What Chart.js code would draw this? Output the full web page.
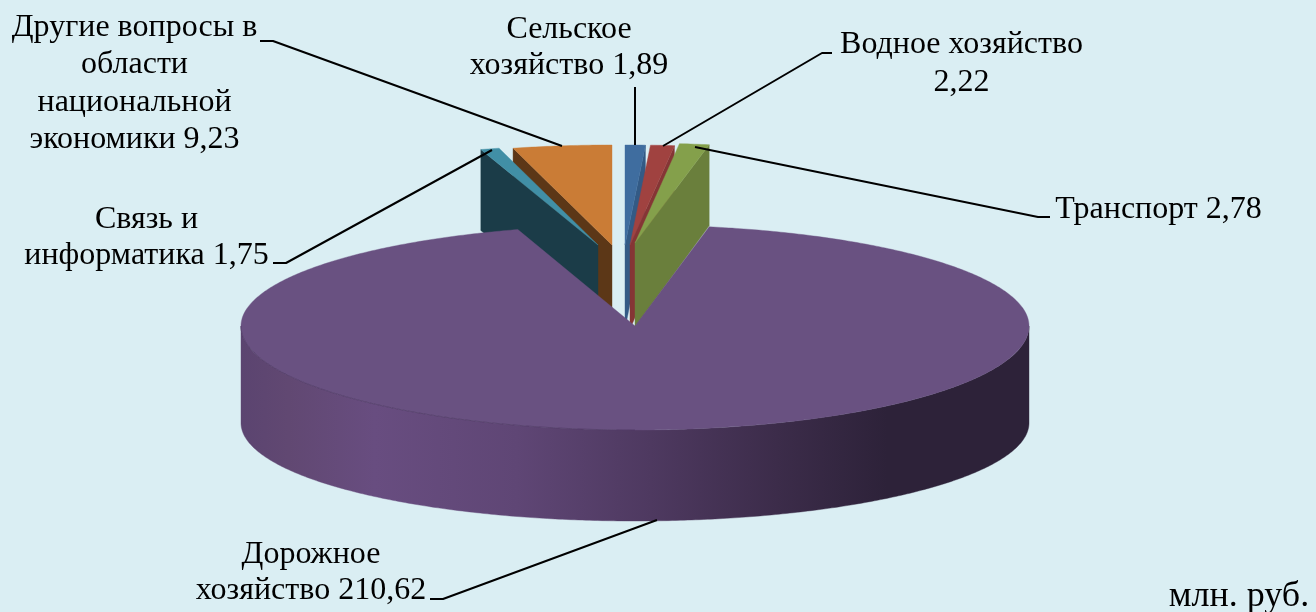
<!DOCTYPE html>
<html><head><meta charset="utf-8">
<style>html,body{margin:0;padding:0;background:#DAEEF3;overflow:hidden}canvas{display:block}</style>
<script src="https://cdn.jsdelivr.net/npm/chart.js@4/dist/chart.umd.min.js"></script>
</head><body><canvas id="c" width="1316" height="612"></canvas>
<script>
const categories = ['Сельское хозяйство','Водное хозяйство','Транспорт','Дорожное хозяйство','Связь и информатика','Другие вопросы в области национальной экономики'];
const values = [1.89,2.22,2.78,210.62,1.75,9.23];
const labelLines = [['Сельское','хозяйство'],['Водное хозяйство'],['Транспорт'],['Дорожное','хозяйство'],['Связь и','информатика'],['Другие вопросы в','области','национальной','экономики']];
const topColors = ['#3F6D9F','#A04240','#84A04B','#695181','#418FA6','#CA7C36'];
const wallColors = ['#335A85','#853535','#6A7F3C','#5A4470','#1B3C48','#5C3717'];
const unit = 'млн. руб.';

// Presentation geometry (pixels)
const BIG = 3;
const explode = [[-10,-81],[-5,-81],[0,-83],[0,0],[-37,-81],[-23,-81]];
const labelPos = [
 {x:569,y:38,lh:36,newline:true},
 {x:961.5,y:53,lh:38,newline:true},
 {x:1158.5,y:218,lh:37,newline:false},
 {x:311,y:563,lh:36,newline:false},
 {x:146.5,y:228,lh:36,newline:false},
 {x:134.5,y:36,lh:37.3,newline:false}
];
const leaders = [
 [[635,87],[635,145]],
 [[832,53],[822,53],[663,146]],
 [[1050,217],[1038,217],[695,147]],
 [[430,599],[443,599],[657,520]],
 [[273,263],[286,263],[492,150]],
 [[260,41],[273,41],[562,146]]
];

function pt(cx,cy,rx,ryBack,ryFront,a){
  const c=Math.cos(a), s=Math.sin(a);
  return [cx+rx*c, cy+(s<0?ryBack:ryFront)*s];
}
function arcPts(el,cx,cy,rb,rf,a0,a1){
  const out=[], n=Math.max(2,Math.ceil(Math.abs(a1-a0)/0.01));
  for(let i=0;i<=n;i++) out.push(pt(cx,cy,el.outerRadius,rb,rf,a0+(a1-a0)*i/n));
  return out;
}
function fillPoly(ctx,p,fill){
  ctx.beginPath(); p.forEach((q,i)=>i?ctx.lineTo(q[0],q[1]):ctx.moveTo(q[0],q[1])); ctx.closePath();
  ctx.fillStyle=fill; ctx.fill();
  ctx.strokeStyle=fill; ctx.lineWidth=0.4; ctx.stroke();
}

const pie3d = {
  id:'pie3d',
  beforeDatasetDraw(chart,args){
    const ctx=chart.ctx, arcs=args.meta.data;
    const drawSmall=(i,side)=>{
      const el=arcs[i], cx=el.x+explode[i][0], cy=el.y+explode[i][1], rb=100, rf=100, d=84;
      const a=side==='start'?el.startAngle:el.endAngle;
      const o=pt(cx,cy,el.outerRadius,rb,rf,a);
      fillPoly(ctx,[[cx,cy],o,[o[0],o[1]+d-3],[cx,cy+d]],wallColors[i]);
      fillPoly(ctx,[[cx,cy],...arcPts(el,cx,cy,rb,rf,el.startAngle,el.endAngle)],el.options.backgroundColor);
    };
    drawSmall(5,'start'); drawSmall(4,'start');
    drawSmall(0,'end'); drawSmall(1,'end'); drawSmall(2,'end');

    const el=arcs[BIG], cx=el.x, cy=el.y, R=el.outerRadius;
    const g=ctx.createLinearGradient(cx-R,0,cx+R,0);
    g.addColorStop(0,'#5B4470'); g.addColorStop(0.06,'#614872'); g.addColorStop(0.17,'#684D80');
    g.addColorStop(0.35,'#5F4675'); g.addColorStop(0.52,'#4E3960'); g.addColorStop(0.68,'#3C2C4A');
    g.addColorStop(0.82,'#2D2239'); g.addColorStop(1,'#2D2239');
    const rim=arcPts(el,cx,cy,101,104,0,Math.PI);
    const base=arcPts(el,cx,cy+97,98,98,0,Math.PI).reverse();
    fillPoly(ctx,[...rim,...base],g);
    fillPoly(ctx,[[cx,cy],...arcPts(el,cx,cy,101,104,el.startAngle,el.endAngle)],el.options.backgroundColor);
    const edge=arcPts(el,cx,cy,101,104,Math.PI/2,Math.PI);
    ctx.beginPath(); edge.forEach((q,i)=>i?ctx.lineTo(q[0],q[1]):ctx.moveTo(q[0],q[1]));
    ctx.strokeStyle='rgba(70,48,90,0.55)'; ctx.lineWidth=1; ctx.stroke();
    return false;
  },
  afterDatasetsDraw(chart){
    const ctx=chart.ctx;
    ctx.save();
    ctx.strokeStyle='#000'; ctx.lineWidth=2; ctx.lineJoin='round';
    leaders.forEach(l=>{ctx.beginPath(); l.forEach((q,i)=>i?ctx.lineTo(q[0],q[1]):ctx.moveTo(q[0],q[1])); ctx.stroke();});
    ctx.fillStyle='#000'; ctx.textAlign='center'; ctx.textBaseline='alphabetic';
    ctx.font='32px "Liberation Serif"';
    labelLines.forEach((lines,i)=>{
      const p=labelPos[i], v=values[i].toFixed(2).replace('.',',');
      const ls=lines.slice();
      if(p.newline && ls.length===1) ls.push(v); else ls[ls.length-1]+=' '+v;
      ls.forEach((t,k)=>ctx.fillText(t,p.x,p.y+k*p.lh));
    });
    ctx.font='36px "Liberation Serif"';
    ctx.fillText(unit,1239,606);
    ctx.restore();
  }
};

new Chart(document.getElementById('c'),{
  type:'pie',
  data:{labels:categories,datasets:[{data:values,backgroundColor:topColors,borderWidth:0}]},
  options:{
    responsive:false,animation:false,radius:394,rotation:0,
    layout:{padding:{left:0,right:46,top:40,bottom:0}},
    events:[],
    plugins:{legend:{display:false},tooltip:{enabled:false}}
  },
  plugins:[pie3d]
});
</script></body></html>
